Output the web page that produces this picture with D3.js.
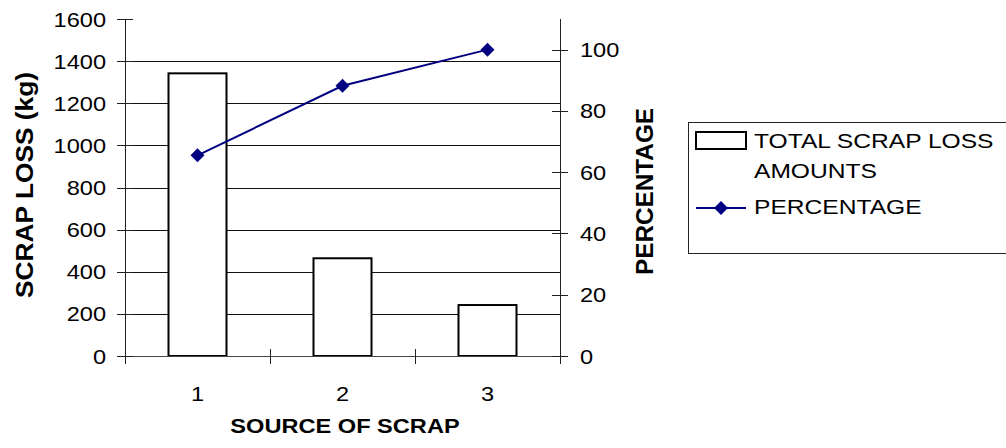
<!DOCTYPE html>
<html>
<head>
<meta charset="utf-8">
<script src="https://cdn.jsdelivr.net/npm/d3@7"></script>
<style>
  html, body { margin: 0; padding: 0; background: #fff; }
  svg { display: block; }
  text { font-family: "Liberation Sans", Arial, sans-serif; fill: #000; }
</style>
</head>
<body>
<svg id="chart" width="1006" height="448"></svg>
<script>
// Scrap sources and their loss amounts (kg)
const sources = [1, 2, 3];
const scrapLoss = [1342, 464, 242];
// Cumulative share of total scrap loss (%)
const percentage = [65.5, 88.2, 100];

const leftTicks = [0, 200, 400, 600, 800, 1000, 1200, 1400, 1600];
const rightTicks = [0, 20, 40, 60, 80, 100];
const gridValues = [200, 400, 600, 800, 1000, 1200, 1400];

const seriesNames = ["TOTAL SCRAP LOSS", "AMOUNTS", "PERCENTAGE"];
const axisTitles = { x: "SOURCE OF SCRAP", y: "SCRAP LOSS (kg)", y2: "PERCENTAGE" };

const svg = d3.select("#chart");
const plot = { left: 125, right: 560, top: 19, bottom: 356 };
const lineColor = "#000080";
const sx = 1.15;   // horizontal glyph stretch of the text face

const x = d3.scaleBand()
  .domain(sources)
  .range([plot.left, plot.right])
  .paddingInner(0.6)
  .paddingOuter(0.3);
const step = x.step();

const yLeft = d3.scaleLinear().domain([0, 1600]).range([plot.bottom, plot.top]);
const yRight = d3.scaleLinear().domain([0, 110]).range([plot.bottom, plot.top]);

// horizontal gridlines
svg.append("g")
  .selectAll("line")
  .data(gridValues)
  .join("line")
  .attr("x1", plot.left).attr("x2", plot.right)
  .attr("y1", d => Math.round(yLeft(d)) + 0.5)
  .attr("y2", d => Math.round(yLeft(d)) + 0.5)
  .attr("stroke", "#111").attr("stroke-width", 1);

// bars
svg.append("g")
  .selectAll("rect")
  .data(sources)
  .join("rect")
  .attr("x", d => x(d))
  .attr("y", (d, i) => yLeft(scrapLoss[i]))
  .attr("width", x.bandwidth())
  .attr("height", (d, i) => yLeft(0) - yLeft(scrapLoss[i]))
  .attr("fill", "#fff")
  .attr("stroke", "#000")
  .attr("stroke-width", 2);

// x axis line and category separators
svg.append("line")
  .attr("x1", plot.left).attr("x2", plot.right)
  .attr("y1", plot.bottom + 0.5).attr("y2", plot.bottom + 0.5)
  .attr("stroke", "#444").attr("stroke-width", 1);

const sepX = d3.range(sources.length + 1).map(i => plot.left + i * step);
svg.append("g")
  .selectAll("line")
  .data(sepX)
  .join("line")
  .attr("x1", d => Math.round(d) + 0.5).attr("x2", d => Math.round(d) + 0.5)
  .attr("y1", plot.bottom - 7).attr("y2", plot.bottom + 8)
  .attr("stroke", "#222");

// left axis
const gL = svg.append("g");
gL.append("line")
  .attr("x1", plot.left + 0.5).attr("x2", plot.left + 0.5)
  .attr("y1", plot.top).attr("y2", plot.bottom + 8)
  .attr("stroke", "#222");
gL.selectAll("line.tick")
  .data(leftTicks)
  .join("line")
  .attr("class", "tick")
  .attr("x1", plot.left - 8).attr("x2", plot.left + 8)
  .attr("y1", d => Math.round(yLeft(d)) + 0.5)
  .attr("y2", d => Math.round(yLeft(d)) + 0.5)
  .attr("stroke", "#222");
gL.selectAll("text")
  .data(leftTicks)
  .join("text")
  .attr("transform", d => `translate(106,${yLeft(d) + 7.5}) scale(${sx},1)`)
  .attr("text-anchor", "end")
  .attr("font-size", 20.5)
  .text(d => d);

// right axis
const gR = svg.append("g");
gR.append("line")
  .attr("x1", plot.right + 0.5).attr("x2", plot.right + 0.5)
  .attr("y1", plot.top).attr("y2", plot.bottom + 8)
  .attr("stroke", "#222");
gR.selectAll("line.tick")
  .data(rightTicks)
  .join("line")
  .attr("class", "tick")
  .attr("x1", plot.right - 8).attr("x2", plot.right + 8)
  .attr("y1", d => Math.round(yRight(d)) + 0.5)
  .attr("y2", d => Math.round(yRight(d)) + 0.5)
  .attr("stroke", "#222");
gR.selectAll("text")
  .data(rightTicks)
  .join("text")
  .attr("transform", d => `translate(580,${yRight(d) + 7.5}) scale(${sx},1)`)
  .attr("text-anchor", "start")
  .attr("font-size", 20.5)
  .text(d => d);

// category labels
svg.append("g")
  .selectAll("text")
  .data(sources)
  .join("text")
  .attr("transform", d => `translate(${x(d) + x.bandwidth() / 2},401) scale(${sx},1)`)
  .attr("text-anchor", "middle")
  .attr("font-size", 20.5)
  .text(d => d);

// percentage line with diamond markers
const line = d3.line()
  .x((d, i) => x(sources[i]) + x.bandwidth() / 2)
  .y(d => yRight(d));
svg.append("path")
  .datum(percentage)
  .attr("d", line)
  .attr("fill", "none")
  .attr("stroke", lineColor)
  .attr("stroke-width", 2);

const diamond = (cx, cy, r) => `M${cx},${cy - r}L${cx + r},${cy}L${cx},${cy + r}L${cx - r},${cy}Z`;
svg.append("g")
  .selectAll("path")
  .data(percentage)
  .join("path")
  .attr("d", (d, i) => diamond(x(sources[i]) + x.bandwidth() / 2, yRight(d), 7))
  .attr("fill", lineColor);

// axis titles
svg.append("text")
  .attr("transform", `translate(345,433) scale(1.18,1)`)
  .attr("text-anchor", "middle")
  .attr("font-size", 20)
  .attr("font-weight", "bold")
  .text(axisTitles.x);

svg.append("text")
  .attr("transform", `translate(33,185) rotate(-90)`)
  .attr("text-anchor", "middle")
  .attr("font-size", 24)
  .attr("font-weight", "bold")
  .attr("textLength", 226)
  .attr("lengthAdjust", "spacingAndGlyphs")
  .text(axisTitles.y);

svg.append("text")
  .attr("transform", `translate(653,191.5) rotate(-90)`)
  .attr("text-anchor", "middle")
  .attr("font-size", 24)
  .attr("font-weight", "bold")
  .attr("textLength", 167)
  .attr("lengthAdjust", "spacingAndGlyphs")
  .text(axisTitles.y2);

// legend (box runs past the right edge, as in the layout)
const lg = svg.append("g");
lg.append("rect")
  .attr("x", 688.5).attr("y", 122.5)
  .attr("width", 330).attr("height", 131)
  .attr("fill", "#fff").attr("stroke", "#222").attr("stroke-width", 1);
lg.append("rect")
  .attr("x", 696).attr("y", 132)
  .attr("width", 50).attr("height", 17)
  .attr("fill", "#fff").attr("stroke", "#000").attr("stroke-width", 2);
lg.append("line")
  .attr("x1", 696).attr("x2", 746)
  .attr("y1", 208).attr("y2", 208)
  .attr("stroke", lineColor).attr("stroke-width", 2);
lg.append("path")
  .attr("d", diamond(721, 208, 7))
  .attr("fill", lineColor);
const legendRows = [
  { text: seriesNames[0], y: 147.5 },
  { text: seriesNames[1], y: 177.5 },
  { text: seriesNames[2], y: 214 }
];
lg.selectAll("text.item")
  .data(legendRows)
  .join("text")
  .attr("class", "item")
  .attr("transform", d => `translate(754,${d.y}) scale(1.2,1)`)
  .attr("font-size", 20.5)
  .text(d => d.text);
</script>
</body>
</html>
